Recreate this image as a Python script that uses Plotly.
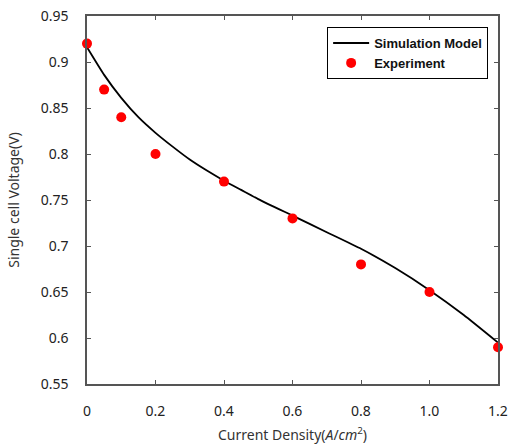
import plotly.graph_objects as go

# simulation curve
sim_x = [0, 0.05, 0.1, 0.15, 0.2, 0.25, 0.3, 0.35, 0.4, 0.45, 0.5, 0.6, 0.7, 0.8, 0.9, 1.0, 1.1, 1.2]
sim_y = [0.916, 0.886, 0.861, 0.840, 0.823, 0.808, 0.794, 0.782, 0.771, 0.761, 0.751, 0.733, 0.715, 0.697, 0.676, 0.652, 0.625, 0.595]

# experiment points
exp_x = [0, 0.05, 0.1, 0.2, 0.4, 0.6, 0.8, 1.0, 1.2]
exp_y = [0.92, 0.87, 0.84, 0.80, 0.77, 0.73, 0.68, 0.65, 0.59]

x_ticks = [0, 0.2, 0.4, 0.6, 0.8, 1.0, 1.2]
x_labels = ["0", "0.2", "0.4", "0.6", "0.8", "1.0", "1.2"]
y_ticks = [0.55, 0.6, 0.65, 0.7, 0.75, 0.8, 0.85, 0.9, 0.95]
y_labels = ["0.55", "0.6", "0.65", "0.7", "0.75", "0.8", "0.85", "0.9", "0.95"]

fig = go.Figure()
fig.add_scatter(x=sim_x, y=sim_y, mode="lines", name="Simulation Model",
                line=dict(color="black", width=1.8, shape="spline", smoothing=0.5))
fig.add_scatter(x=exp_x, y=exp_y, mode="markers", name="Experiment",
                marker=dict(color="#ff0000", size=10), cliponaxis=False)

axis_style = dict(showline=True, linecolor="#555555", linewidth=1.5, mirror="ticks",
                  ticks="inside", ticklen=4, tickcolor="#555555", showgrid=False,
                  zeroline=False, automargin=False, ticklabeloverflow="allow",
                  tickfont=dict(family="Noto Sans", size=14, color="#222222"))

fig.update_xaxes(range=[0, 1.2], tickvals=x_ticks, ticktext=x_labels, ticklabelstandoff=13,
                 title=dict(text="Current Density(<i>A</i>/<i>cm</i><sup>2</sup>)",
                            font=dict(family="Noto Sans", size=14, color="#333333"), standoff=12),
                 **axis_style)
fig.update_yaxes(range=[0.55, 0.95], tickvals=y_ticks, ticktext=y_labels, ticklabelstandoff=14,
                 title=dict(text="Single cell Voltage(V)",
                            font=dict(family="Noto Sans", size=14, color="#333333"), standoff=18),
                 **axis_style)

fig.update_layout(
    width=517, height=448,
    margin=dict(l=87, r=19, t=16, b=64),
    plot_bgcolor="white", paper_bgcolor="white",
    legend=dict(x=0.976, y=0.97, xanchor="right", yanchor="top",
                bordercolor="black", borderwidth=1, bgcolor="white",
                font=dict(family="Liberation Sans", size=13, color="#111111", weight="bold"),
                tracegroupgap=0, itemwidth=36),
)

# drop the default 8px body margin so the figure sits at the page corner
fig.write_html("out.html", config={"displayModeBar": False},
               post_script="document.body.style.margin='0';")
